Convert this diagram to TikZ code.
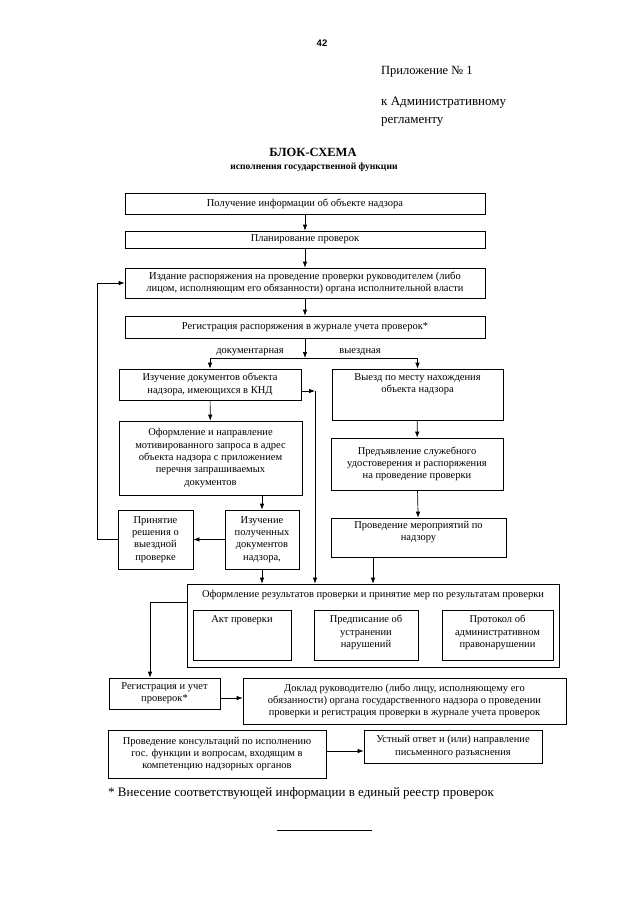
\documentclass[tikz,border=0pt]{standalone}
\usepackage{fontspec}
\setmainfont{Liberation Serif}
\newfontfamily\sansf{Liberation Sans}
\usetikzlibrary{arrows.meta}
\newcommand\fs{\fontsize{10.5}{12.3}\selectfont}
\begin{document}
\begin{tikzpicture}[x=1pt,y=-1pt,
  box/.style={draw, line width=0.7pt, inner sep=1.5pt, align=center, font=\fs},
  txt/.style={inner sep=1.5pt, align=center, font=\fs},
  arr/.style={line width=0.7pt, -{Latex[length=6pt,width=4.5pt]}},
  ln/.style={line width=0.7pt},
]
\fill[white] (0,0) rectangle (640,905);
\useasboundingbox (0,0) rectangle (640,905);

% header
\node[font=\sansf\bfseries\fontsize{9.5}{10}\selectfont] (pg) at (322,43) {42};
\node[anchor=west, inner sep=0pt, font=\fontsize{12.5}{14}\selectfont] (h1) at (381,72) {Приложение № 1};
\node[anchor=west, inner sep=0pt, font=\fontsize{13}{14}\selectfont] (h2) at (381,103) {к Административному};
\node[anchor=west, inner sep=0pt, font=\fontsize{13}{14}\selectfont] (h3) at (381,122) {регламенту};
\node[font=\bfseries\fontsize{12.5}{14}\selectfont] (t1) at (313,152) {БЛОК-СХЕМА};
\node[font=\bfseries\fontsize{9.6}{11}\selectfont] (t2) at (314,167) {исполнения государственной функции};

% main chain
\node[box, minimum width=360, minimum height=21] (b1) at (305,203.5) {Получение информации об объекте надзора};
\node[box, minimum width=360, minimum height=17] (b2) at (305,239.5) {Планирование проверок};
\node[box, minimum width=360, minimum height=30] (b3) at (305,283) {Издание распоряжения на проведение проверки руководителем (либо\\лицом, исполняющим его обязанности) органа исполнительной власти};
\node[box, minimum width=360, minimum height=22] (b4) at (305,327) {Регистрация распоряжения в журнале учета проверок*};

% left branch
\node[box, minimum width=182, minimum height=31] (b5) at (210,384.5) {Изучение документов объекта\\надзора, имеющихся в КНД};
\node[box, minimum width=183, minimum height=74] (b7) at (210.5,458) {Оформление и направление\\мотивированного запроса в адрес\\объекта надзора с приложением\\перечня запрашиваемых\\документов};
\node[box, minimum width=75, minimum height=59] (bp) at (155.5,539.5) {Принятие\\решения о\\выездной\\проверке};
\node[box, minimum width=74, minimum height=59] (b10) at (262,539.5) {Изучение\\полученных\\документов\\надзора,};

% right branch
\node[box, minimum width=171, minimum height=51] (b6) at (417.5,394.5) {};
\node[txt, anchor=north] (b6t) at ([yshift=-3pt]b6.north) {Выезд по месту нахождения\\объекта надзора};
\node[box, minimum width=172, minimum height=52] (b8) at (417,464) {Предъявление служебного\\удостоверения и распоряжения\\на проведение проверки};
\node[box, minimum width=175, minimum height=39] (bm) at (418.5,537.5) {};
\node[txt, anchor=north] (bmt) at ([yshift=-2pt]bm.north) {Проведение мероприятий по\\надзору};

% results
\node[box, minimum width=372, minimum height=83] (br) at (373,625.5) {};
\node[txt, anchor=north] (brt) at ([yshift=-5pt]br.north) {Оформление результатов проверки и принятие мер по результатам проверки};
\node[box, minimum width=98, minimum height=50] (akt) at (242,635) {};
\node[txt, anchor=north] (aktt) at ([yshift=-4pt]akt.north) {Акт проверки};
\node[box, minimum width=104, minimum height=50] (pr) at (366,635) {};
\node[txt, anchor=north] (prt) at ([yshift=-4pt]pr.north) {Предписание об\\устранении\\нарушений};
\node[box, minimum width=111, minimum height=50] (pt) at (497.5,635) {};
\node[txt, anchor=north] (ptt) at ([yshift=-4pt]pt.north) {Протокол об\\административном\\правонарушении};

% bottom
\node[box, minimum width=111, minimum height=31] (bg) at (164.5,693.5) {Регистрация и учет\\проверок*};
\node[box, minimum width=323, minimum height=46] (bd) at (404.5,701) {Доклад руководителю (либо лицу, исполняющему его\\обязанности) органа государственного надзора о проведении\\проверки и регистрация проверки в журнале учета проверок};
\node[box, minimum width=218, minimum height=48] (bk) at (217,754) {Проведение консультаций по исполнению\\гос. функции и вопросам, входящим в\\компетенцию надзорных органов};
\node[box, minimum width=178, minimum height=33] (bu) at (453,746.5) {Устный ответ и (или) направление\\письменного разъяснения};

\node[anchor=west, inner sep=0pt, font=\fontsize{13}{14}\selectfont] (fn) at (108,793) {* Внесение соответствующей информации в единый реестр проверок};
\coordinate (r1) at (277,830);
\coordinate (r2) at (372,830);
\draw[ln] (r1) -- (r2);

% labels
\node[font=\fs, inner sep=0pt] (ld) at (250,352) {документарная};
\node[font=\fs, inner sep=0pt] (lv) at (360,352) {выездная};

% connectors
\draw[arr] (b1) -- (b2);
\draw[arr] (b2) -- (b3);
\draw[arr] (b3) -- (b4);
\coordinate (sp) at (305,358);
\draw[arr] (b4) -- (sp);
\draw[ln] (b5.north |- sp) -- (b6.north |- sp);
\draw[arr] (b5.north |- sp) -- (b5.north);
\draw[arr] (b6.north |- sp) -- (b6.north);
\draw[arr] (b5) -- (b7);
\draw[arr] (b6) -- (b8);
\draw[arr] (b10.north |- b7.south) -- (b10.north);
\draw[arr] (b8) -- (bm);
\draw[arr] (b10) -- (bp);
\coordinate (lp) at (97,539.5);
\coordinate (lt) at (97,283);
\draw[arr] (bp.west) -- (lp) -- (lt) -- (b3.west);
\coordinate (c5) at (315,391);
\draw[arr] (b5.east |- c5) -- (c5);
\draw[arr] (c5) -- (c5 |- br.north);
\draw[arr] (b10) -- (b10 |- br.north);
\coordinate (cm) at (373,557);
\draw[arr] (cm) -- (cm |- br.north);
\coordinate (rl) at (150,602);
\draw[arr] (br.west |- rl) -- (rl) -- (rl |- bg.north);
\coordinate (gd) at (220,698);
\draw[arr] (gd) -- (gd -| bd.west);
\coordinate (ku) at (326,751);
\draw[arr] (ku) -- (ku -| bu.west);
\end{tikzpicture}
\end{document}
